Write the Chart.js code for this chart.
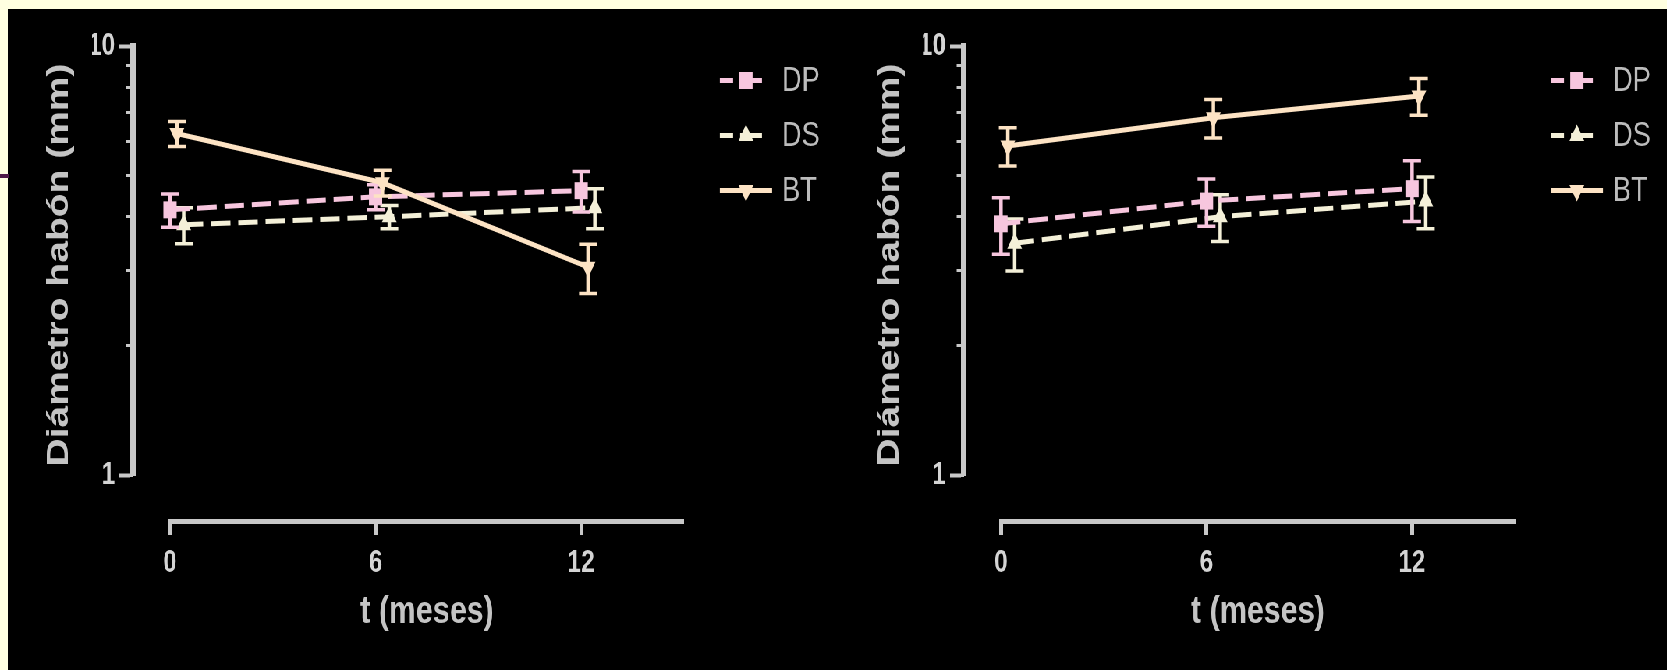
<!DOCTYPE html>
<html>
<head>
<meta charset="utf-8">
<script src="https://cdn.jsdelivr.net/npm/chart.js@4.4.1/dist/chart.umd.min.js"></script>
<style>
  html, body { margin: 0; padding: 0; width: 1667px; height: 670px; overflow: hidden; background: #ffffe0; }
  #panel { position: absolute; left: 8px; top: 9px; right: 0; bottom: 0; background: #000; }
  #mark { position: absolute; left: 0; top: 174px; width: 9px; height: 4px; background: #4f1a48; }
  /* the figure is drawn wide and compressed horizontally */
  #stage { position: absolute; left: 0; top: 0; width: 2137px; height: 670px; transform: scaleX(0.78); transform-origin: 0 0; }
  .box { position: absolute; top: 0; height: 670px; }
</style>
</head>
<body>
<div id="panel"></div>
<div id="mark"></div>
<div id="stage">
  <div class="box" style="left:0; width:1066px;"><canvas id="chartA"></canvas></div>
  <div class="box" style="left:1066px; width:1071px;"><canvas id="chartB"></canvas></div>
</div>
<script>
// ---- data ----
const MONTHS = [0, 6, 12];
const X_TICKS = [0, 6, 12];
const Y_TICKS = [1, 10];
const Y_MINOR_TICKS = [1, 2, 3, 4, 5, 6, 7, 8, 9, 10];
const SERIES = ['DP', 'DS', 'BT'];

// left panel: mean diameter and SEM
const DP_A = [4.15, 4.45, 4.6];
const DP_A_SEM = [0.37, 0.3, 0.5];
const DS_A = [3.83, 4.0, 4.2];
const DS_A_SEM = [0.37, 0.25, 0.45];
const BT_A = [6.25, 4.8, 3.05];
const BT_A_SEM = [0.42, 0.33, 0.4];

// right panel: mean diameter and SEM
const DP_B = [3.85, 4.35, 4.65];
const DP_B_SEM = [0.58, 0.55, 0.75];
const DS_B = [3.47, 4.0, 4.35];
const DS_B_SEM = [0.48, 0.5, 0.6];
const BT_B = [5.85, 6.8, 7.65];
const BT_B_SEM = [0.6, 0.7, 0.75];

const X_TITLE = 't (meses)';
const Y_TITLE = 'Diámetro habón (mm)';

// ---- styling ----
const FONT = "'Liberation Sans', Arial, sans-serif";
const AXIS = '#c8c8c8';
const TICK_TEXT = '#d4d4d4';
const TITLE_TEXT = '#c4c4c4';
const LEGEND_TEXT = '#bcbcbc';
const X_AXIS_AT = 0.781;   // y value where the detached time axis sits
const Y_AXIS_AT = -1.08;   // x value where the detached diameter axis sits
const CAP = 11.5;          // half width of error-bar caps
const LABEL_BAND = 100;    // width of the band holding the diameter labels
const LABEL_GAP = 70.5;    // gap between those labels and the plot area

const STYLE = {
  DP: { color: '#f7c6de', dash: [25, 10], point: 'rect', radius: 12, rotation: 0, shift: 0, order: 1 },
  DS: { color: '#f4f0d8', dash: [25, 10], point: 'triangle', radius: 11, rotation: 0, shift: 0.4, order: 2 },
  BT: { color: '#fde3c4', dash: [], point: 'triangle', radius: 11, rotation: 180, shift: 0.2, order: 0 }
};

function makeDataset(name, values, sem) {
  const st = STYLE[name];
  return {
    label: name,
    data: MONTHS.map((t, i) => ({ x: t + st.shift, y: values[i] })),
    sem: sem,
    borderColor: st.color,
    backgroundColor: st.color,
    borderWidth: 5,
    borderDash: st.dash,
    pointStyle: st.point,
    pointRadius: st.radius,
    pointRotation: st.rotation,
    pointBackgroundColor: st.color,
    pointBorderColor: st.color,
    pointBorderWidth: 0,
    tension: 0,
    order: st.order,
    clip: false
  };
}

function drawMarker(ctx, style, x, y) {
  const r = style.radius;
  ctx.beginPath();
  if (style.point === 'rect') {
    const h = Math.SQRT1_2 * r;
    ctx.rect(x - h, y - h, 2 * h, 2 * h);
  } else {
    let rad = style.rotation * Math.PI / 180;
    for (let k = 0; k < 3; k++) {
      const px = x + Math.sin(rad) * r, py = y - Math.cos(rad) * r;
      if (k === 0) ctx.moveTo(px, py); else ctx.lineTo(px, py);
      rad += 2 * Math.PI / 3;
    }
    ctx.closePath();
  }
  ctx.fill();
}

// SEM whiskers under each series
const errorBars = {
  id: 'errorBars',
  beforeDatasetDraw(chart, args) {
    const ds = chart.data.datasets[args.index];
    if (!ds.sem) return;
    const xs = chart.scales.x, ys = chart.scales.y, ctx = chart.ctx;
    ctx.save();
    ctx.strokeStyle = ds.borderColor;
    ctx.setLineDash([]);
    ds.data.forEach((p, i) => {
      const px = xs.getPixelForValue(p.x);
      const top = ys.getPixelForValue(p.y + ds.sem[i]);
      const bot = ys.getPixelForValue(p.y - ds.sem[i]);
      ctx.lineWidth = 4.5;
      ctx.beginPath();
      ctx.moveTo(px, top); ctx.lineTo(px, bot);
      ctx.stroke();
      ctx.lineWidth = 3.5;
      ctx.beginPath();
      ctx.moveTo(px - CAP, top); ctx.lineTo(px + CAP, top);
      ctx.moveTo(px - CAP, bot); ctx.lineTo(px + CAP, bot);
      ctx.stroke();
    });
    ctx.restore();
  }
};

// axis titles and the line-and-symbol legend
const decorations = {
  id: 'decorations',
  afterDraw(chart) {
    const ctx = chart.ctx, a = chart.chartArea;
    ctx.save();
    ctx.fillStyle = TITLE_TEXT;
    ctx.textAlign = 'center';
    ctx.textBaseline = 'middle';
    ctx.font = 'bold 39px ' + FONT;
    ctx.fillText(X_TITLE, (a.left + a.right) / 2, a.bottom + 137);
    ctx.save();
    ctx.translate(a.left - 142, a.top + 219);
    ctx.rotate(-Math.PI / 2);
    ctx.fillText(Y_TITLE, 0, 0);
    ctx.restore();

    chart.data.datasets.forEach((ds, i) => {
      const st = STYLE[ds.label];
      const y = a.top + 34.5 + i * 55;
      const xm = a.right + 79.5;
      ctx.strokeStyle = st.color;
      ctx.fillStyle = st.color;
      ctx.lineWidth = 5;
      ctx.beginPath();
      if (st.dash.length) {
        ctx.moveTo(a.right + 46, y); ctx.lineTo(a.right + 63, y);
        ctx.moveTo(a.right + 72, y); ctx.lineTo(a.right + 100, y);
      } else {
        ctx.moveTo(a.right + 46, y); ctx.lineTo(a.right + 113, y);
      }
      ctx.stroke();
      drawMarker(ctx, st, xm, y);
      ctx.fillStyle = LEGEND_TEXT;
      ctx.font = '35px ' + FONT;
      ctx.textAlign = 'left';
      ctx.fillText(ds.label, a.right + 125.6, y + 1);
    });
    ctx.restore();
  }
};

function makeChart(id, sets, plotLeft, padRight) {
  const datasets = SERIES.map(name => makeDataset(name, sets[name][0], sets[name][1]));
  const tickFont = { family: FONT, size: 31, weight: 'bold' };
  return new Chart(document.getElementById(id), {
    type: 'line',
    data: { datasets },
    plugins: [errorBars, decorations],
    options: {
      responsive: true,
      maintainAspectRatio: false,
      animation: false,
      events: [],
      layout: { padding: { left: plotLeft - LABEL_BAND, right: padRight, top: 46, bottom: 195 } },
      plugins: { legend: { display: false }, tooltip: { enabled: false } },
      scales: {
        x: {
          type: 'linear', min: 0, max: 15,
          position: { y: X_AXIS_AT },
          afterBuildTicks: s => { s.ticks = X_TICKS.map(v => ({ value: v })); },
          border: { display: true, color: AXIS, width: 5 },
          grid: { drawOnChartArea: false, drawTicks: true, tickLength: 11, tickWidth: 5, tickColor: AXIS },
          ticks: { color: TICK_TEXT, font: tickFont, padding: 13, maxRotation: 0, autoSkip: false }
        },
        y: {
          type: 'logarithmic', min: 1, max: 10,
          position: { x: Y_AXIS_AT },
          afterBuildTicks: s => { s.ticks = Y_TICKS.map(v => ({ value: v })); },
          border: { display: true, color: AXIS, width: 7 },
          grid: { drawOnChartArea: false, drawTicks: true, tickLength: 14, tickWidth: 4, tickColor: AXIS },
          ticks: { display: false }
        },
        yMinor: {
          type: 'logarithmic', axis: 'y', min: 1, max: 10,
          position: { x: Y_AXIS_AT },
          afterBuildTicks: s => { s.ticks = Y_MINOR_TICKS.map(v => ({ value: v })); },
          border: { display: false },
          grid: { drawOnChartArea: false, drawTicks: true, tickLength: 9.5, tickWidth: 3, tickColor: AXIS },
          ticks: { display: false }
        },
        yLabels: {
          type: 'logarithmic', axis: 'y', min: 1, max: 10,
          position: 'left',
          afterBuildTicks: s => { s.ticks = Y_TICKS.map(v => ({ value: v })); },
          afterFit: s => { s.width = LABEL_BAND; s.paddingTop = 0; s.paddingBottom = 0; },
          border: { display: false },
          grid: { display: false, drawTicks: false },
          ticks: { color: TICK_TEXT, font: tickFont, padding: LABEL_GAP, callback: v => String(v) }
        }
      }
    }
  });
}

makeChart('chartA', { DP: [DP_A, DP_A_SEM], DS: [DS_A, DS_A_SEM], BT: [BT_A, BT_A_SEM] }, 217.95, 189.1);
makeChart('chartB', { DP: [DP_B, DP_B_SEM], DS: [DS_B, DS_B_SEM], BT: [BT_B, BT_B_SEM] }, 217.3, 194.9);
</script>
</body>
</html>
